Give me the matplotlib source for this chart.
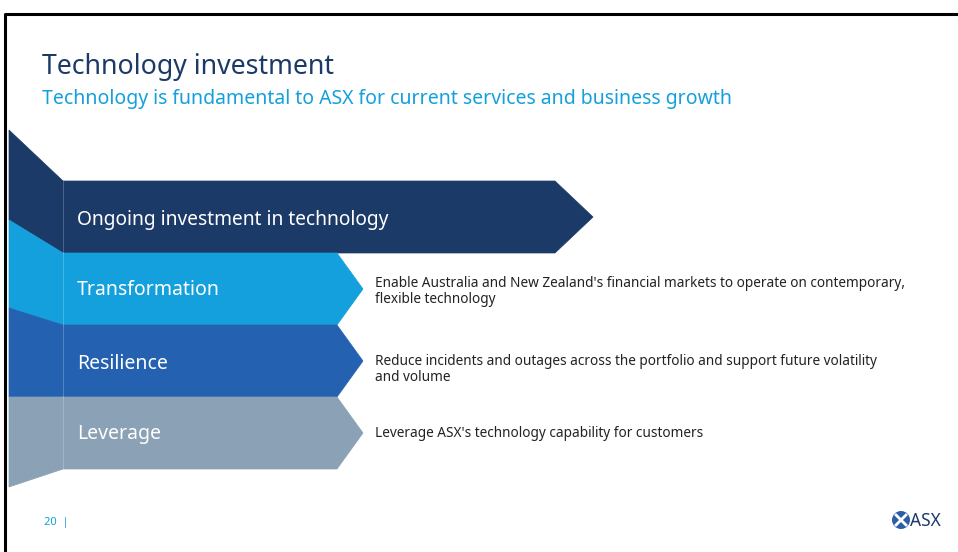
import matplotlib.pyplot as plt
from matplotlib.patches import Polygon, Circle

plt.rcParams['font.family'] = ['Noto Sans', 'DejaVu Sans']

W, H = 958, 552

title = "Technology investment"
subtitle = "Technology is fundamental to ASX for current services and business growth"

labels = ["Ongoing investment in technology", "Transformation", "Resilience", "Leverage"]
descriptions = [
    [],
    ["Enable Australia and New Zealand's financial markets to operate on contemporary,",
     "flexible technology"],
    ["Reduce incidents and outages across the portfolio and support future volatility",
     "and volume"],
    ["Leverage ASX's technology capability for customers"],
]
colors = ["#1b3a68", "#14a0dc", "#2461b0", "#8ba1b5"]
page = "20  |"

NAVY = "#1b3a68"
SKY = "#14a0dc"

# band layout (pixel coords, y down)
band_top = [181, 253, 325, 397]
band_h = 72
left_top = [130, 220, 308, 397]
left_bot = [220, 308, 397, 487]
body_end = [555, 337, 337, 337]
tip_x = [593, 363, 363, 363]
label_base = [225, 295, 369, 439]
desc_base = [0, 287, 365, 437]
x0, x1 = 9, 63

fig = plt.figure(figsize=(W / 100, H / 100), dpi=100)
ax = fig.add_axes([0, 0, 1, 1])
ax.set_xlim(0, W)
ax.set_ylim(H, 0)
ax.axis("off")

# slide frame
ax.plot([5, 5, W], [H, 14, 14], color="black", lw=2.2, solid_capstyle="butt")

ax.text(42, 67, title, fontsize=19.2, color=NAVY, va="center", ha="left")
ax.text(42, 99, subtitle, fontsize=14, color=SKY, va="center", ha="left")

for i, lab in enumerate(labels):
    t = band_top[i]
    b = t + band_h
    c = colors[i]
    # left skewed piece
    ax.add_patch(Polygon([(x0, left_top[i]), (x1, t), (x1, b), (x0, left_bot[i])],
                         closed=True, facecolor=c, edgecolor=c, lw=0.5))
    # arrow body
    ax.add_patch(Polygon([(x1, t), (body_end[i], t), (tip_x[i], (t + b) / 2),
                          (body_end[i], b), (x1, b)],
                         closed=True, facecolor=c, edgecolor=c, lw=0.5))
    ax.plot([x1, x1], [t, b], color="white", lw=0.6, alpha=0.25)
    fs = 13.8 if i == 0 else 14
    ax.text(77, label_base[i], lab, fontsize=fs, color="white", va="baseline", ha="left")
    for k, line in enumerate(descriptions[i]):
        ax.text(375, desc_base[i] + 16 * k, line, fontsize=9.8, color="#222222",
                va="baseline", ha="left")

ax.text(44, 522, page, fontsize=8, color=SKY, va="center", ha="left")

# logo
ax.add_patch(Circle((901, 520), 9, facecolor="#2c5ea8", edgecolor="none"))
ax.plot([896, 906], [515, 525], color="white", lw=2)
ax.plot([896, 906], [525, 515], color="white", lw=2)
ax.text(910, 521, "ASX", fontsize=12.5, color=NAVY, va="center", ha="left")

fig.savefig("out.png", dpi=100)
